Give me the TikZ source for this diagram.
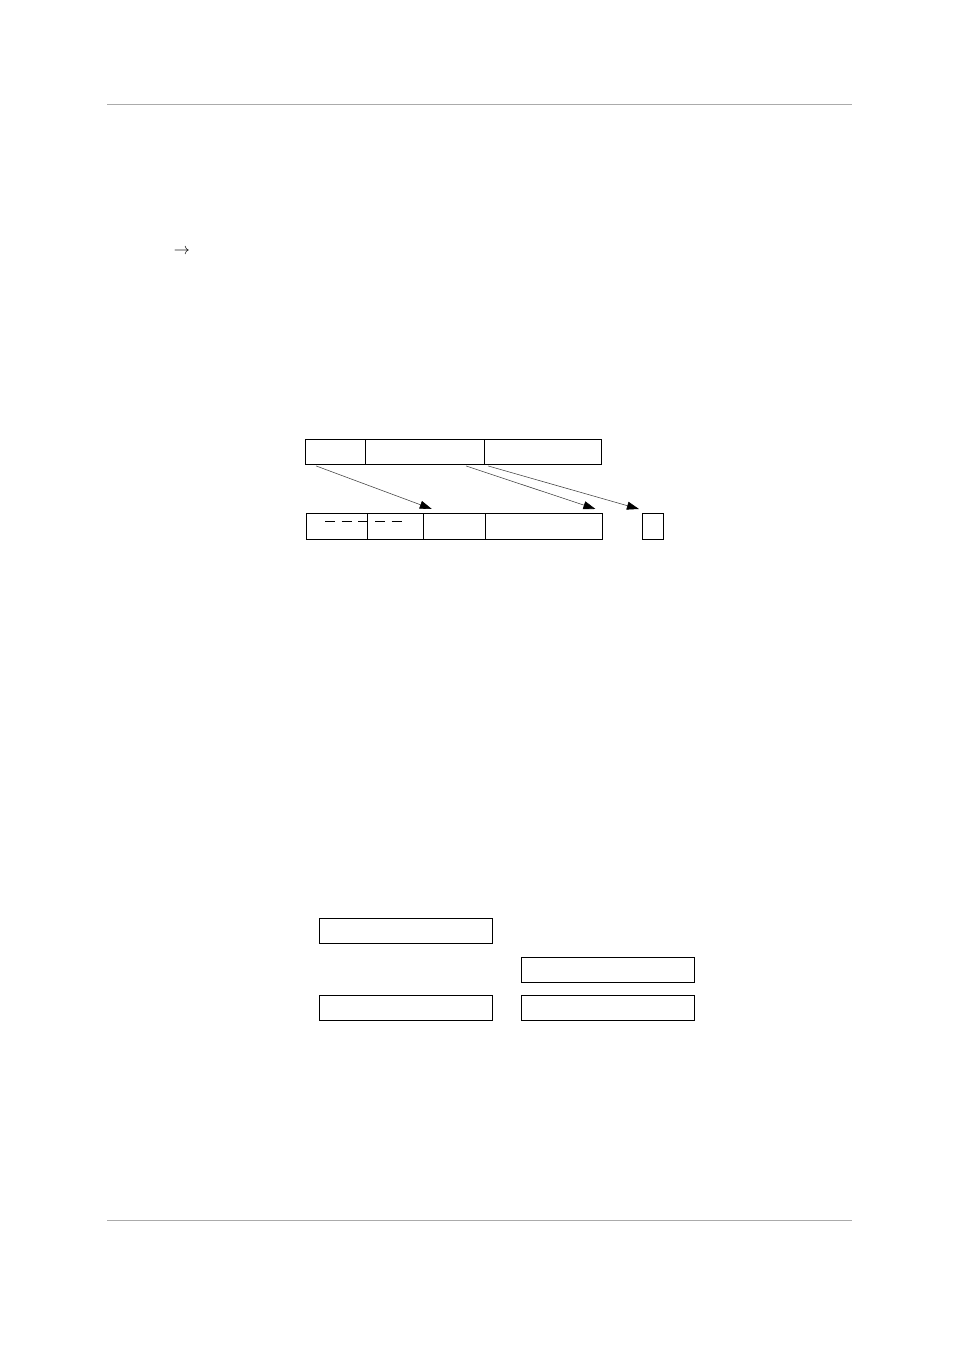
\documentclass[tikz,border=0pt]{standalone}
\usepackage{tikz}
\usetikzlibrary{arrows.meta, positioning}
\tikzset{cell/.style = {draw, rectangle, inner sep=0pt, outer sep=0pt,
		minimum height=15.6pt},
	rule/.style = {draw=black!33, line width=0.6pt}
}

\begin{document}
\begin{tikzpicture}[x=0.624pt, y=-0.624pt,
					arrow/.style={-{Triangle[length=7.5pt,width=5pt,black]}, line width=0.35pt, black!75},
					field/.style={cell, line width=0.5pt},
					wide/.style={cell, line width=0.5pt, minimum width=108pt},
					font=\normalsize
					]
					\useasboundingbox (0,0) rectangle (954,1351);

					% page rules
					\coordinate (hl) at (107,104);
					\coordinate (hr) at (852,104);
					\coordinate (fl) at (107,1220);
					\coordinate (fr) at (852,1220);
					\draw[rule] (hl) -- (hr);
					\draw[rule] (fl) -- (fr);

					\node (sym) at (182,252) {$\rightarrow$};

					% upper record
					\node[field, anchor=north west, minimum width=37.4pt] (t1) at (305,439) {};
					\node[field, right=0pt of t1, minimum width=74.3pt] (t2) {};
					\node[field, right=0pt of t2, minimum width=73.3pt] (t3) {};

					% lower record
					\node[field, anchor=north west, minimum width=38.1pt, minimum height=16.2pt] (b1) at (306,513) {};
					\node[field, right=0pt of b1, minimum width=35.4pt, minimum height=16.2pt] (b2) {};
					\node[field, right=0pt of b2, minimum width=38.7pt, minimum height=16.2pt] (b3) {};
					\node[field, right=0pt of b3, minimum width=72.8pt, minimum height=16.2pt] (b4) {};
					\node[field, anchor=north west, minimum width=13.1pt, minimum height=16.2pt] (sm) at (642,513) {};
					\draw[line width=0.5pt, dash pattern=on 6.2pt off 4.2pt] ([shift={(11.9pt,-5pt)}]b1.north west) -- ([shift={(24.3pt,-5pt)}]b2.north west);

					% Connections
					\draw[arrow] ([shift={(6.9pt,-1.2pt)}]t1.south west) -- ([shift={(5pt,2.5pt)}]b3.north west);
					\draw[arrow] ([shift={(-11.2pt,-1.2pt)}]t2.south east) -- ([shift={(-4.4pt,2.5pt)}]b4.north east);
					\draw[arrow] ([shift={(2.5pt,-1.2pt)}]t3.south west) -- ([shift={(-1.9pt,2.5pt)}]sm.north west);

					% lower boxes
					\node[wide, anchor=north west] (p1) at (319,918) {};
					\node[wide, anchor=north west] (p2) at (521,957) {};
					\node[wide, anchor=north west] (p3) at (319,995) {};
					\node[wide, anchor=north west] (p4) at (521,995) {};

				\end{tikzpicture}
\end{document}
